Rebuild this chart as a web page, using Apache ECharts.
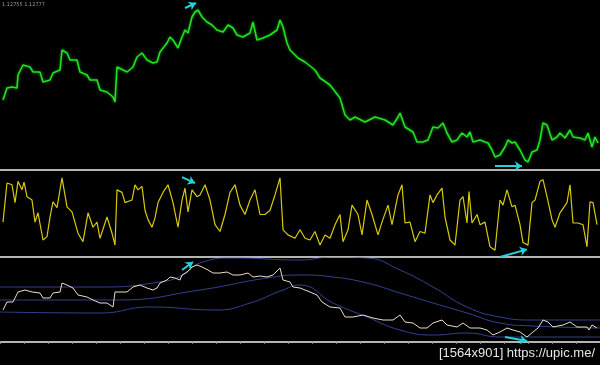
<!DOCTYPE html>
<html><head><meta charset="utf-8">
<script src="https://cdn.jsdelivr.net/npm/echarts@6/dist/echarts.min.js"></script>
<style>html,body{margin:0;padding:0;background:#000}#c{width:600px;height:365px}</style>
</head><body><div id="c"></div>
<script>
// Panel 1: price (bar number, value)
var priceBars = [3,7,12,17,18,23,30,33,40,43,50,53,60,62,67,70,77,80,87,90,97,100,107,113,115,117,123,127,133,137,142,147,153,157,160,167,170,173,178,182,185,188,192,195,198,202,207,212,217,223,228,233,237,243,250,253,257,263,270,277,280,283,287,290,295,298,305,315,320,330,340,345,350,355,365,375,385,393,398,400,405,413,417,423,428,433,438,443,447,452,457,462,467,470,473,480,485,488,492,495,500,505,508,512,515,520,525,528,532,537,540,543,547,552,557,560,565,570,573,580,585,588,592,595,598];
var priceVals = [70,82,83,82,95,105,103,98,98,88,90,97,100,120,117,110,110,98,95,90,90,80,78,73,68,103,100,98,103,113,117,110,107,108,118,127,133,130,122,133,140,137,153,158,160,153,148,145,140,138,145,142,135,133,137,148,130,132,135,140,150,143,127,120,115,112,108,100,92,85,72,55,50,53,48,53,50,45,53,57,43,38,28,28,30,43,42,47,37,28,30,37,33,38,28,30,28,27,20,13,15,23,30,27,28,20,10,8,18,20,30,47,45,30,33,37,32,40,33,32,30,37,23,33,27];
// Panel 2: oscillator (0-100)
var oscBars = [3,7,12,15,18,22,24,27,32,35,38,43,47,50,53,57,62,67,72,78,83,88,93,97,100,107,112,115,117,122,125,132,135,138,142,145,148,152,155,158,163,168,173,178,182,185,188,192,197,200,205,210,215,220,225,230,235,240,245,250,255,260,265,270,275,280,283,288,295,300,305,310,315,320,325,330,335,340,343,348,352,358,362,367,372,378,382,388,392,398,402,405,410,415,420,425,430,433,437,442,445,450,455,460,463,467,469,472,477,480,485,490,495,500,503,507,512,515,520,523,528,532,535,540,543,547,552,555,560,567,570,573,578,583,587,590,593,597];
var oscVals = [41,87,85,64,89,79,88,71,67,41,52,20,24,47,65,58,93,59,53,28,18,52,35,41,22,47,28,14,79,76,64,67,85,79,83,55,44,35,46,64,76,85,64,35,67,81,53,79,71,73,85,67,38,30,50,76,85,61,50,67,79,50,50,55,73,93,32,26,22,32,22,20,30,14,26,22,38,50,18,32,61,50,26,67,50,26,41,61,38,73,85,40,41,18,30,28,73,64,73,81,47,20,14,67,71,40,77,40,50,38,41,12,8,67,61,79,59,61,38,17,14,64,67,89,91,71,44,35,52,64,85,40,40,38,12,65,64,38];
// Panel 3: price copy with bands
var p3Bars = [3,7,13,18,25,32,40,43,50,53,60,62,67,73,78,87,93,100,107,113,115,120,127,133,140,147,153,157,160,167,170,175,180,182,187,192,197,202,208,213,220,227,233,240,248,253,260,267,273,280,283,290,293,300,310,317,322,330,340,345,353,363,373,383,393,400,405,413,420,427,433,442,447,457,463,470,480,487,493,500,507,513,520,527,533,538,543,548,553,563,570,577,587,589,592,597];
var p3Vals = [32,40,40,50,52,50,49,44,44,49,50,59,57,54,47,45,42,39,39,35,50,50,50,55,57,54,52,54,59,62,65,64,62,67,70,75,77,75,72,69,69,70,67,67,69,65,66,65,67,74,62,60,55,54,50,47,40,35,34,25,25,27,24,22,22,27,20,19,14,14,19,22,17,15,19,14,14,12,7,10,14,12,10,5,10,14,22,20,15,17,20,15,15,12,17,14];
var upperBars = [0,100,160,183,200,233,300,333,367,400,433,467,500,533,600];
var upperVals = [55,55,60,67,79,84,82,85,84,72,55,35,25,22,22];
var midBars = [0,117,200,267,300,333,367,400,433,467,500,533,600];
var midVals = [42,42,52,64,67,65,59,49,39,29,19,16,14];
var lowerBars = [0,100,150,217,250,283,300,333,367,400,433,467,500,533,600];
var lowerVals = [30,29,35,32,39,52,57,39,25,12,7,9,5,5,5];
// annotation arrows [bar, value] pairs
var arrowsP1 = [[[185,162],[196,167]],[[495,4],[522,4]]];
var arrowsP2 = [[[182,94],[195,87]],[[500,0],[527,9]]];
var arrowsP3 = [[[182,72],[193,80]],[[505,5],[527,1]]];

function zip(a,b){return a.map(function(x,i){return [x,b[i]];});}
function arrows(list){
  return {silent:true,symbol:['none','arrow'],symbolSize:7,label:{show:false},
    lineStyle:{color:'#22d4d4',width:2,type:'solid'},
    data:list.map(function(p){return [{coord:p[0]},{coord:p[1]}];})};
}
var gray = '#b4b4b4';
function xAx(idx, ticks){
  return {type:'value',gridIndex:idx,min:0,max:600,interval:24,
    axisLine:{show:true,lineStyle:{color:gray,width:2}},
    axisTick:{show:ticks,length:2,lineStyle:{color:'#888'}},
    axisLabel:{show:false},splitLine:{show:false}};
}
function yAx(idx,min,max){
  return {type:'value',gridIndex:idx,min:min,max:max,show:false,splitLine:{show:false}};
}
var chart = echarts.init(document.getElementById('c'));
chart.setOption({
  backgroundColor:'#000',
  animation:false,
  grid:[{left:0,right:0,top:0,height:170},{left:0,right:0,top:172,height:85},{left:0,right:0,top:258,height:84}],
  xAxis:[xAx(0,false),xAx(1,false),xAx(2,true)],
  yAxis:[yAx(0,0,170),yAx(1,0,100),yAx(2,0,84)],
  series:[
    {type:'line',xAxisIndex:0,yAxisIndex:0,data:zip(priceBars,priceVals),symbol:'none',
     lineStyle:{color:'#22e022',width:1.6,shadowColor:'#0b8a0b',shadowBlur:3},markLine:arrows(arrowsP1)},
    {type:'line',xAxisIndex:1,yAxisIndex:1,data:zip(oscBars,oscVals),symbol:'none',clip:false,
     lineStyle:{color:'#d8ca0a',width:1.2},markLine:arrows(arrowsP2)},
    {type:'line',xAxisIndex:2,yAxisIndex:2,data:zip(upperBars,upperVals),symbol:'none',smooth:true,
     lineStyle:{color:'#34428e',width:1}},
    {type:'line',xAxisIndex:2,yAxisIndex:2,data:zip(midBars,midVals),symbol:'none',smooth:true,
     lineStyle:{color:'#34428e',width:1}},
    {type:'line',xAxisIndex:2,yAxisIndex:2,data:zip(lowerBars,lowerVals),symbol:'none',smooth:true,
     lineStyle:{color:'#34428e',width:1}},
    {type:'line',xAxisIndex:2,yAxisIndex:2,data:zip(p3Bars,p3Vals),symbol:'none',
     lineStyle:{color:'#e8dfc6',width:1},markLine:arrows(arrowsP3)}
  ],
  graphic:[
    {type:'text',left:2,top:2,style:{text:'1.12755 1.12777',fill:'#9a9a9a',font:'5px "DejaVu Sans"'}},
    {type:'text',right:5,top:347,style:{text:'[1564x901] https://upic.me/',fill:'#e6e6e6',font:'13px "Liberation Sans"'}}
  ]
});
</script></body></html>
